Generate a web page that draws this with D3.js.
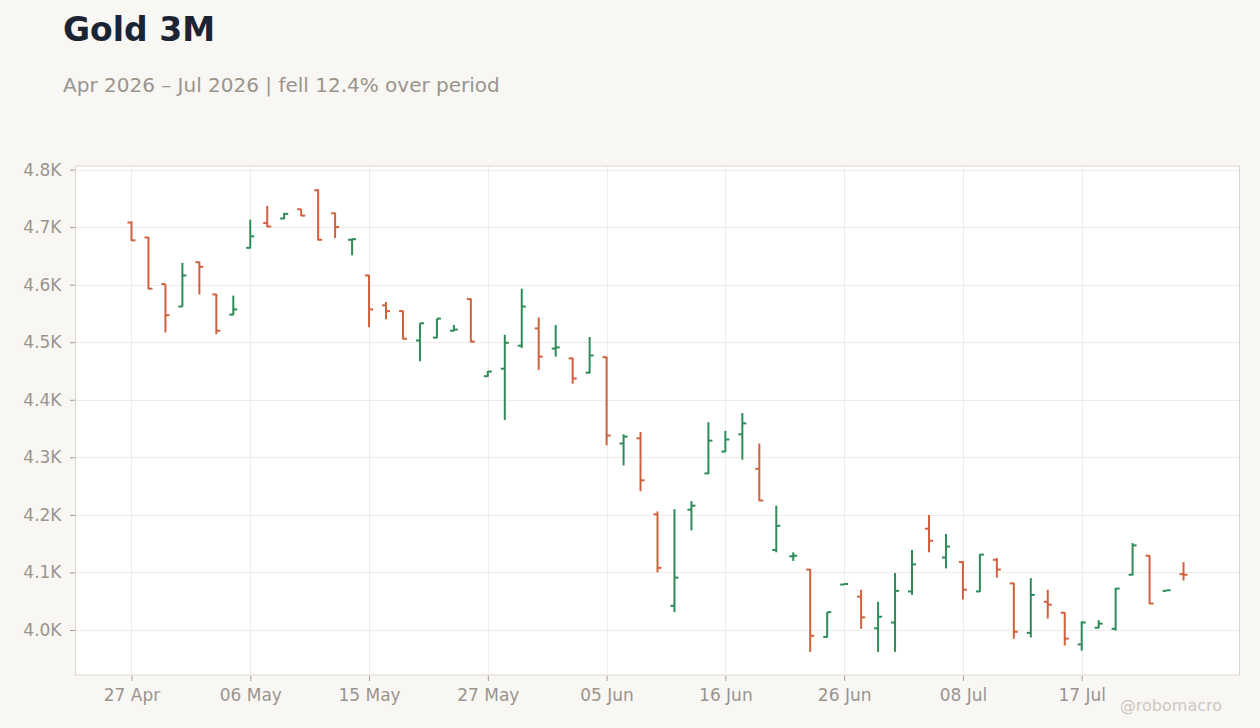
<!DOCTYPE html>
<html>
<head>
<meta charset="utf-8">
<script src="https://cdn.jsdelivr.net/npm/d3@7"></script>
<style>
  html, body { margin: 0; padding: 0; background: #f9f7f4; }
  svg { display: block; font-family: "DejaVu Sans", sans-serif; }
</style>
</head>
<body>
<svg id="chart" width="1260" height="728"></svg>
<script>
const dates = [
  "2026-04-27","2026-04-28","2026-04-29","2026-04-30","2026-05-01",
  "2026-05-04","2026-05-05","2026-05-06","2026-05-07","2026-05-08",
  "2026-05-11","2026-05-12","2026-05-13","2026-05-14","2026-05-15",
  "2026-05-18","2026-05-19","2026-05-20","2026-05-21","2026-05-22",
  "2026-05-26","2026-05-27","2026-05-28","2026-05-29",
  "2026-06-01","2026-06-02","2026-06-03","2026-06-04","2026-06-05",
  "2026-06-08","2026-06-09","2026-06-10","2026-06-11","2026-06-12",
  "2026-06-15","2026-06-16","2026-06-17","2026-06-18",
  "2026-06-22","2026-06-23","2026-06-24","2026-06-25","2026-06-26",
  "2026-06-29","2026-06-30","2026-07-01","2026-07-02",
  "2026-07-06","2026-07-07","2026-07-08","2026-07-09","2026-07-10",
  "2026-07-13","2026-07-14","2026-07-15","2026-07-16","2026-07-17",
  "2026-07-20","2026-07-21","2026-07-22","2026-07-23","2026-07-24",
  "2026-07-27"
];
const open = [
  4708,4682,4601,4562,4639,4583,4548,4664,4707,4715,
  4731,4764,4724,4678,4616,4564,4554,4503,4508,4520,
  4575,4441,4454,4494,4524,4489,4472,4447,4474,4324,
  4333,4201,4042,4209,4272,4310,4340,4280,4139,4128,
  4105,3988,4079,4058,4003,4013,4067,4176,4126,4118,
  4067,4122,4081,3995,4049,4030,3975,4004,4002,4096,
  4129,4068,4097
];
const high = [
  4710,4683,4601,4638,4640,4584,4581,4713,4737,4725,
  4731,4766,4725,4680,4617,4570,4555,4533,4541,4530,
  4576,4450,4513,4593,4543,4530,4473,4509,4475,4340,
  4344,4206,4210,4224,4361,4346,4377,4324,4216,4135,
  4106,4031,4080,4070,4049,4099,4139,4200,4167,4120,
  4132,4125,4082,4090,4070,4031,4015,4017,4073,4151,
  4130,4069,4118
];
const low = [
  4676,4592,4517,4562,4583,4514,4547,4663,4700,4714,
  4719,4677,4681,4651,4526,4540,4505,4467,4507,4519,
  4500,4440,4365,4490,4452,4475,4428,4446,4321,4286,
  4241,4100,4031,4173,4271,4309,4296,4224,4135,4120,
  3962,3987,4079,4002,3962,3962,4061,4135,4107,4053,
  4066,4091,3985,3987,4020,3973,3964,4003,3999,4095,
  4045,4068,4086
];
const close = [
  4677,4593,4547,4616,4631,4520,4557,4684,4701,4723,
  4720,4678,4700,4679,4557,4554,4506,4533,4541,4522,
  4501,4449,4499,4562,4475,4491,4437,4477,4338,4336,
  4260,4108,4091,4216,4329,4331,4359,4225,4181,4129,
  3990,4031,4080,4022,4023,4068,4114,4155,4145,4070,
  4131,4105,3997,4061,4044,3985,4013,4011,4072,4147,
  4046,4069,4096
];
const yTickValues = [4000, 4100, 4200, 4300, 4400, 4500, 4600, 4700, 4800];
const xTickEvery = 7;

const titleText = "Gold 3M";
const subtitleText = "Apr 2026 \u2013 Jul 2026 | fell 12.4% over period";
const watermarkText = "@robomacro";

const rows = dates.map((d, i) => ({
  date: d, o: open[i], h: high[i], l: low[i], c: close[i]
}));

const W = 1260, H = 728;
const m = { left: 75.5, right: 20.5, top: 166, bottom: 53 };
const svg = d3.select("#chart");

const x = d3.scalePoint().domain(dates).range([m.left, W - m.right]).padding(3.3);
const lo = d3.min(low), hi = d3.max(high), pad = (hi - lo) * 0.05;
const y = d3.scaleLinear().domain([lo - pad, hi + pad]).range([H - m.bottom, m.top]);

const fmtDate = d3.timeFormat("%d %b");
const parse = d3.timeParse("%Y-%m-%d");
const yFmt = v => (v / 1000).toFixed(1) + "K";

// plot background
svg.append("rect")
  .attr("x", m.left).attr("y", m.top)
  .attr("width", W - m.right - m.left).attr("height", H - m.bottom - m.top)
  .attr("fill", "#ffffff");

const xTicks = dates.filter((d, i) => i % xTickEvery === 0);

// grid
svg.append("g").selectAll("line").data(yTickValues).join("line")
  .attr("x1", m.left).attr("x2", W - m.right)
  .attr("y1", d => Math.round(y(d)) + 0.5).attr("y2", d => Math.round(y(d)) + 0.5)
  .attr("stroke", "#eeeceb").attr("stroke-width", 1);
svg.append("g").selectAll("line").data(xTicks).join("line")
  .attr("x1", d => Math.round(x(d)) + 0.5).attr("x2", d => Math.round(x(d)) + 0.5)
  .attr("y1", m.top).attr("y2", H - m.bottom)
  .attr("stroke", "#eeeceb").attr("stroke-width", 1);

// frame
svg.append("rect")
  .attr("x", m.left).attr("y", m.top)
  .attr("width", W - m.right - m.left).attr("height", H - m.bottom - m.top)
  .attr("fill", "none").attr("stroke", "#ddd7cf").attr("stroke-width", 1);

// axes
const yAxis = svg.append("g")
  .attr("transform", `translate(${m.left - 0.5},0)`)
  .call(d3.axisLeft(y).tickValues(yTickValues).tickFormat(yFmt).tickSize(5).tickPadding(8.5));
const xAxis = svg.append("g")
  .attr("transform", `translate(0,${H - m.bottom + 1})`)
  .call(d3.axisBottom(x).tickValues(xTicks).tickFormat(d => fmtDate(parse(d))).tickSize(5).tickPadding(8));
[yAxis, xAxis].forEach(g => {
  g.select(".domain").remove();
  g.selectAll(".tick line").attr("stroke", "#a09a93");
  g.selectAll(".tick text")
    .attr("fill", "#9a948d")
    .style("font-family", "'DejaVu Sans', sans-serif")
    .style("font-size", "17px");
});

// OHLC bars
const up = "#2e8b57", down = "#d0603e";
const tick = 4;
const bars = svg.append("g").selectAll("g").data(rows).join("g")
  .attr("stroke", d => d.c >= d.o ? up : down)
  .attr("stroke-width", 2);
bars.append("line")
  .attr("x1", d => x(d.date)).attr("x2", d => x(d.date))
  .attr("y1", d => y(d.h)).attr("y2", d => y(d.l));
bars.append("line")
  .attr("x1", d => x(d.date) - tick).attr("x2", d => x(d.date))
  .attr("y1", d => y(d.o)).attr("y2", d => y(d.o));
bars.append("line")
  .attr("x1", d => x(d.date)).attr("x2", d => x(d.date) + tick)
  .attr("y1", d => y(d.c)).attr("y2", d => y(d.c));

// title
svg.append("text").attr("x", 63).attr("y", 41)
  .attr("fill", "#1b2433").style("font-size", "33px").style("font-weight", "bold")
  .text(titleText);
svg.append("text").attr("x", 63).attr("y", 92)
  .attr("fill", "#9a948d").style("font-size", "20px")
  .text(subtitleText);
svg.append("text").attr("x", 1222).attr("y", 711)
  .attr("text-anchor", "end")
  .attr("fill", "#cdc8c2").style("font-size", "16px")
  .text(watermarkText);
</script>
</body>
</html>
